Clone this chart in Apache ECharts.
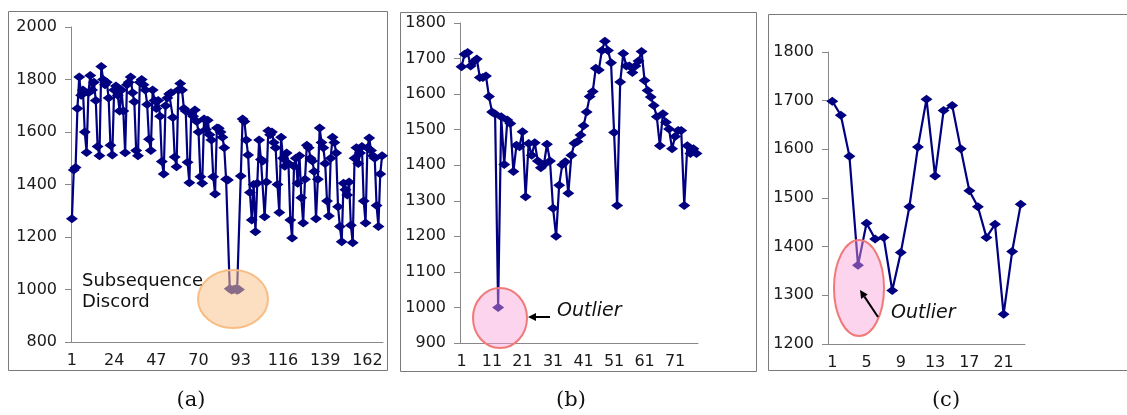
<!DOCTYPE html>
<html lang="en">
<head>
<meta charset="UTF-8">
<title>Discord and outliers</title>
<style>
  html, body { margin: 0; padding: 0; background: #fff; }
  #main { width: 1127px; height: 415px; }
</style>
</head>
<body>
<div id="main"></div>
<script src="https://cdn.jsdelivr.net/npm/echarts@6/dist/echarts.min.js"></script>
<script>
// panel (a): subsequence discord
const valuesA = [
  1270, 1455, 1465, 1690, 1810, 1740, 1760, 1600, 1522, 1750,
  1815, 1760, 1790, 1720, 1545, 1510, 1850, 1800, 1780, 1790,
  1730, 1550, 1512, 1760, 1775, 1740, 1680, 1760, 1680, 1521,
  1780, 1790, 1810, 1750, 1715, 1530, 1510, 1790, 1800, 1780,
  1760, 1705, 1572, 1530, 1760, 1720, 1690, 1720, 1660, 1488,
  1440, 1700, 1730, 1745, 1750, 1655, 1505, 1468, 1760, 1785,
  1760, 1690, 1680, 1485, 1407, 1670, 1660, 1684, 1640, 1600,
  1430, 1405, 1650, 1610, 1645, 1590, 1570, 1430, 1364, 1615,
  1614, 1600, 1580, 1540, 1420, 1417, 1003, 998, 1000, 1002,
  997, 1000, 1432, 1650, 1640, 1570, 1512, 1370, 1265, 1400,
  1220, 1405, 1570, 1495, 1490, 1277, 1410, 1605, 1590, 1600,
  1560, 1540, 1400, 1293, 1580, 1500, 1470, 1520, 1480, 1265,
  1196, 1470, 1500, 1405, 1510, 1350, 1253, 1420, 1550, 1540,
  1500, 1490, 1450, 1270, 1420, 1615, 1560, 1540, 1480, 1337,
  1280, 1500, 1580, 1560, 1520, 1315, 1240, 1182, 1405, 1380,
  1360, 1410, 1245, 1178, 1500, 1540, 1480, 1520, 1545, 1337,
  1253, 1540, 1577, 1530, 1510, 1500, 1320, 1240, 1440, 1510
];
// panel (b): outlier in a long series
const valuesB = [
  1677, 1712, 1717, 1679, 1691, 1699, 1647, 1647, 1651, 1593,
  1550, 1544, 1000, 1536, 1402, 1527, 1517, 1382, 1456, 1452,
  1494, 1311, 1461, 1428, 1463, 1412, 1393, 1402, 1459, 1412,
  1279, 1200, 1344, 1401, 1410, 1321, 1428, 1462, 1467, 1485,
  1511, 1550, 1593, 1607, 1673, 1668, 1723, 1749, 1723, 1688,
  1492, 1287, 1634, 1714, 1679, 1679, 1661, 1679, 1693, 1720,
  1638, 1610, 1592, 1568, 1536, 1455, 1545, 1521, 1502, 1446,
  1481, 1498, 1498, 1287, 1455, 1433, 1446, 1433
];
// panel (c): outlier in a short series
const valuesC = [
  1699, 1670, 1586, 1362, 1448, 1416, 1419, 1310, 1388, 1482,
  1605, 1703, 1545, 1680, 1690, 1601, 1515, 1482, 1419, 1446,
  1261, 1390, 1487
];
const captions = ['(a)', '(b)', '(c)'];

const catsA = valuesA.map((v, i) => String(i + 1));
const catsB = valuesB.map((v, i) => String(i + 1));
const catsC = valuesC.map((v, i) => String(i + 1));

const navy = '#000080';
const axisGray = '#888888';
const labelFont = { fontFamily: 'DejaVu Sans', fontSize: 16, color: '#1a1a1a' };

function xAxisOf(idx, cats, step) {
  return {
    type: 'category', gridIndex: idx, data: cats, boundaryGap: true,
    axisLine: { lineStyle: { color: axisGray, width: 1 } },
    axisTick: { interval: 0, length: 4, lineStyle: { color: axisGray } },
    axisLabel: Object.assign({ interval: step - 1, margin: 11 }, labelFont),
    splitLine: { show: false }
  };
}
function yAxisOf(idx, min, max, interval) {
  return {
    type: 'value', gridIndex: idx, min, max, interval,
    axisLine: { show: true, lineStyle: { color: axisGray, width: 1 } },
    axisTick: { show: true, length: 6, lineStyle: { color: axisGray } },
    axisLabel: Object.assign({ margin: 14, formatter: v => String(v) }, labelFont),
    splitLine: { show: false }
  };
}
function seriesOf(idx, values) {
  return {
    type: 'line', xAxisIndex: idx, yAxisIndex: idx, data: values,
    symbol: 'diamond', symbolSize: [12, 9], showAllSymbol: true,
    itemStyle: { color: navy }, lineStyle: { color: navy, width: 2.2 },
    animation: false, z: 2
  };
}

const chart = echarts.init(document.getElementById('main'), null, { renderer: 'canvas' });

const option = {
  backgroundColor: '#ffffff',
  animation: false,
  grid: [
    { left: 71, top: 27, width: 312, height: 315 },
    { left: 460, top: 23, width: 238, height: 320 },
    { left: 828, top: 52, width: 197, height: 292 }
  ],
  xAxis: [xAxisOf(0, catsA, 23), xAxisOf(1, catsB, 10), xAxisOf(2, catsC, 4)],
  yAxis: [yAxisOf(0, 800, 2000, 200), yAxisOf(1, 900, 1800, 100), yAxisOf(2, 1200, 1800, 100)],
  series: [seriesOf(0, valuesA), seriesOf(1, valuesB), seriesOf(2, valuesC)]
};
chart.setOption(option);

// frames, highlight ellipses, notes and captions
const frame = (x, y, w, h) => ({
  type: 'rect', silent: true, z: 0,
  shape: { x: x + 0.5, y: y + 0.5, width: w, height: h },
  style: { fill: null, stroke: '#7a7a7a', lineWidth: 1 }
});
const note = (x, y, text, size, italic) => ({
  type: 'text', silent: true, z: 20, x, y,
  style: {
    text, fill: '#111', font: (italic ? 'italic ' : '') + size + 'px "DejaVu Sans"',
    lineHeight: 21
  }
});
const arrow = (x1, y1, x2, y2) => {
  const a = Math.atan2(y2 - y1, x2 - x1), L = 8, W = 4;
  const bx = x2 - L * Math.cos(a), by = y2 - L * Math.sin(a);
  return [
    { type: 'line', silent: true, z: 20, shape: { x1, y1, x2: bx, y2: by },
      style: { stroke: '#000', lineWidth: 2 } },
    { type: 'polygon', silent: true, z: 20,
      shape: { points: [[x2, y2],
        [bx + W * Math.sin(a), by - W * Math.cos(a)],
        [bx - W * Math.sin(a), by + W * Math.cos(a)]] },
      style: { fill: '#000' } }
  ];
};
const caption = (x, text) => ({
  type: 'text', silent: true, x, y: 390,
  style: { text, fill: '#111', font: '21px "DejaVu Serif"', align: 'center' }
});

const elements = [
  frame(8, 11, 379, 359),
  frame(400, 12, 356, 359),
  frame(768, 14, 370, 356),
  { type: 'ellipse', silent: true, z: 10,
    shape: { cx: 233, cy: 299, rx: 35, ry: 29 },
    style: { fill: 'rgba(250,196,140,0.55)', stroke: '#f7bd84', lineWidth: 2 } },
  note(82, 271, 'Subsequence\nDiscord', 18, false),
  { type: 'ellipse', silent: true, z: 10,
    shape: { cx: 500, cy: 318, rx: 27, ry: 30 },
    style: { fill: 'rgba(250,160,215,0.45)', stroke: '#f07a7a', lineWidth: 2 } },
  note(557, 301, 'Outlier', 19, true),
  { type: 'ellipse', silent: true, z: 10,
    shape: { cx: 859, cy: 288, rx: 25, ry: 48 },
    style: { fill: 'rgba(250,160,215,0.45)', stroke: '#f07a7a', lineWidth: 2 } },
  note(891, 303, 'Outlier', 19, true),
  caption(191, captions[0]),
  caption(571, captions[1]),
  caption(946, captions[2])
].concat(arrow(550, 317, 528, 317), arrow(878, 317, 860, 290));

chart.setOption({ graphic: { elements } });
</script>
</body>
</html>
